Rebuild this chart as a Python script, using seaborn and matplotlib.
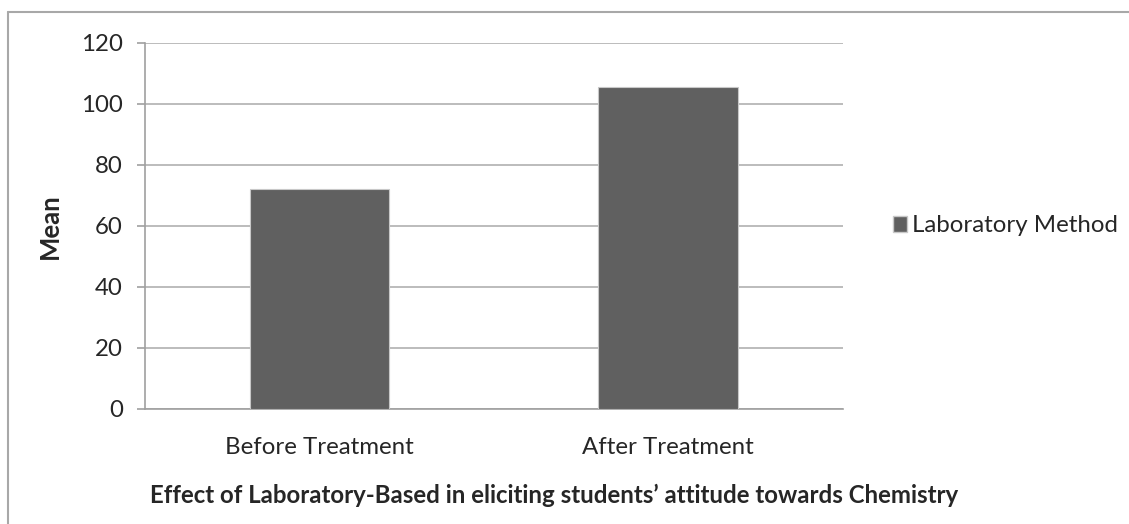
import pandas as pd
import matplotlib.pyplot as plt
import seaborn as sns
from matplotlib.lines import Line2D
from matplotlib.patches import Patch

# Datos
fases = ['Before Treatment', 'After Treatment']
medias = [72.0, 105.6]
serie = 'Laboratory Method'

sns.set_style('white')
plt.rcParams['font.family'] = ['Lato', 'DejaVu Sans']

df = pd.DataFrame({'fase': fases, 'media': medias})

fig = plt.figure(figsize=(11.29, 5.24), dpi=100)
ax = fig.add_axes([0.1284, 0.2195, 0.618, 0.6985])

sns.barplot(data=df, x='fase', y='media', color='#606060', width=0.4,
            edgecolor='#c8c8c8', linewidth=0.8, saturation=1, ax=ax, zorder=3)

ax.set_ylim(0, 120)
ax.set_yticks(range(0, 121, 20))
ax.yaxis.grid(True, color='#b0b0b0', linewidth=1.2, zorder=0)
ax.xaxis.grid(False)
ax.set_axisbelow(True)

for lado in ['top', 'right']:
    ax.spines[lado].set_visible(False)
for lado in ['left', 'bottom']:
    ax.spines[lado].set_color('#a0a0a0')
    ax.spines[lado].set_linewidth(1.2)

ax.tick_params(axis='y', which='both', left=True, length=6, width=1.2,
               color='#a0a0a0', labelsize=17.3, pad=10)
ax.tick_params(axis='x', bottom=False, labelsize=17.3, pad=17)

ax.set_ylabel('Mean', fontsize=18.5, fontweight='bold', labelpad=14)
ax.set_xlabel('Effect of Laboratory-Based in eliciting students\u2019 attitude towards Chemistry',
              fontsize=17.3, fontweight='bold', labelpad=20)
ax.xaxis.set_label_coords(0.586, -0.205)

ax.legend(handles=[Patch(facecolor='#606060', edgecolor='#c8c8c8', label=serie)],
          loc='center left', bbox_to_anchor=(1.041, 0.5), frameon=False,
          fontsize=17.3, handlelength=0.6, handleheight=0.6, handletextpad=0.2)

# Marco exterior del gráfico
fig.add_artist(Line2D([8 / 1129, 8 / 1129], [0, 1 - 12 / 524], color='#a8a8a8', lw=1.5))
fig.add_artist(Line2D([8 / 1129, 1], [1 - 12 / 524, 1 - 12 / 524], color='#a8a8a8', lw=1.5))

plt.savefig('out.png', dpi=100, facecolor='white')
plt.close()
